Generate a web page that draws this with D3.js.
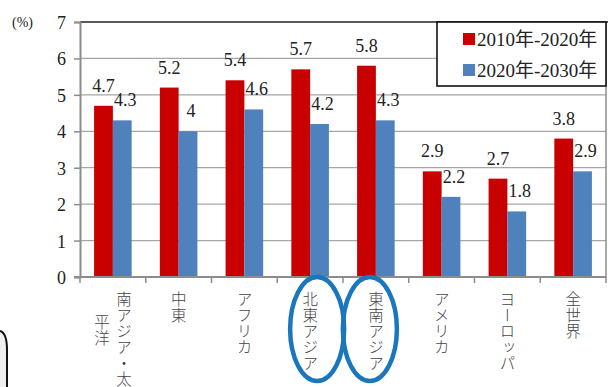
<!DOCTYPE html>
<html><head><meta charset="utf-8">
<script src="https://cdn.jsdelivr.net/npm/d3@7"></script>
<style>
html,body{margin:0;padding:0;background:#fff;}
svg{display:block;}
.sf{font-family:"Liberation Serif","Times New Roman","DejaVu Serif","Noto Sans CJK JP",serif;}
.cj{font-family:"Noto Sans CJK JP","Noto Sans CJK SC",sans-serif;}
</style></head>
<body>
<script>
const categories = ["南アジア・太\n平洋", "中東", "アフリカ", "北東アジア", "東南アジア", "アメリカ", "ヨーロッパ", "全世界"];
const seriesNames = ["2010年-2020年", "2020年-2030年"];
const series2010_2020 = [4.7, 5.2, 5.4, 5.7, 5.8, 2.9, 2.7, 3.8];
const series2020_2030 = [4.3, 4.0, 4.6, 4.2, 4.3, 2.2, 1.8, 2.9];
const yTicks = [0, 1, 2, 3, 4, 5, 6, 7];
const highlighted = ["北東アジア", "東南アジア"];
const colors = ["#c80000", "#4f81bd"];

(function () {
const W = 616, H = 387;
const svg = d3.select("body").append("svg").attr("width", W).attr("height", H);

const pL = 80, pR = 606, pT = 22, pB = 277;
const x0 = d3.scaleBand().domain(categories).range([pL, pR]).padding(0);
const x1 = d3.scaleBand().domain(seriesNames).range([0, x0.bandwidth()]).paddingInner(0).paddingOuter(0.75);
const y = d3.scaleLinear().domain([0, 7]).range([pB, pT]);

// gridlines
svg.append("g").selectAll("line").data(yTicks.filter(t => t > 0 && t < 7)).join("line")
  .attr("x1", pL).attr("x2", pR).attr("y1", d => y(d)).attr("y2", d => y(d))
  .attr("stroke", "#a6a6a6").attr("stroke-width", 1.2);
// top line
svg.append("line").attr("x1", pL).attr("x2", pR + 2).attr("y1", y(7)).attr("y2", y(7))
  .attr("stroke", "#222").attr("stroke-width", 1.6);
// right border
svg.append("line").attr("x1", pR).attr("x2", pR).attr("y1", y(7)).attr("y2", pB)
  .attr("stroke", "#8c8c8c").attr("stroke-width", 1.5);

// bars
const data = categories.map((c, i) => ({cat: c, vals: [series2010_2020[i], series2020_2030[i]]}));
const groups = svg.append("g").selectAll("g").data(data).join("g")
  .attr("transform", d => `translate(${x0(d.cat)},0)`);
groups.selectAll("rect").data(d => d.vals.map((v, j) => ({v, s: seriesNames[j], j}))).join("rect")
  .attr("x", d => x1(d.s)).attr("width", x1.bandwidth())
  .attr("y", d => y(d.v)).attr("height", d => y(0) - y(d.v))
  .attr("fill", d => colors[d.j]);
groups.selectAll("text").data(d => d.vals.map((v, j) => ({v, s: seriesNames[j], j}))).join("text")
  .attr("class", "sf")
  .attr("x", d => x1(d.s) + x1.bandwidth() / 2 + (d.j === 1 ? 3 : 0))
  .attr("y", d => y(d.v) - 14)
  .attr("text-anchor", "middle")
  .attr("font-size", 18).attr("fill", "#222")
  .text(d => d3.format("~g")(d.v));

// y axis
const yAxis = d3.axisLeft(y).tickValues(yTicks).tickSize(6).tickFormat(d3.format("d"));
const gy = svg.append("g").attr("transform", `translate(${pL},0)`).call(yAxis);
gy.attr("font-family", null);
gy.select(".domain").attr("stroke", "#8c8c8c").attr("stroke-width", 2);
gy.selectAll(".tick line").attr("stroke", "#8c8c8c").attr("stroke-width", 1.5);
gy.selectAll(".tick text").attr("class", "sf").attr("font-size", 18).attr("fill", "#222")
  .attr("x", -14).attr("dy", "0.36em");
svg.append("text").attr("class", "sf").attr("x", 12).attr("y", 27).attr("font-size", 14)
  .attr("fill", "#222").text("(%)");

// x axis
svg.append("line").attr("x1", pL - 6).attr("x2", pR).attr("y1", pB).attr("y2", pB)
  .attr("stroke", "#8c8c8c").attr("stroke-width", 2);
const bounds = categories.map(c => x0(c)).concat([pR]);
svg.append("g").selectAll("line").data(bounds).join("line")
  .attr("x1", d => d).attr("x2", d => d).attr("y1", pB).attr("y2", pB + 6)
  .attr("stroke", "#8c8c8c").attr("stroke-width", 1.5);

// category labels (vertical)
const labG = svg.append("g");
categories.forEach(c => {
  const lines = c.split("\n");
  const cx = x0(c) + x0.bandwidth() / 2;
  const n = lines.length;
  lines.forEach((ln, k) => {
    const colX = n === 1 ? cx : cx + 11 - k * 22;
    labG.append("text").attr("class", "cj")
      .attr("x", colX).attr("y", 291 + (k > 0 ? 23 : 0))
      .attr("font-size", 15.5).attr("fill", "#444").attr("font-weight", 300)
      .style("writing-mode", "vertical-rl")
      .attr("letter-spacing", 0.5)
      .text(ln);
  });
});

// highlight ellipses
svg.append("g").selectAll("ellipse").data(highlighted).join("ellipse")
  .attr("cx", (d, i) => x0(d) + x0.bandwidth() / 2 + (i === 0 ? 7 : -6))
  .attr("cy", 329).attr("rx", 27).attr("ry", 52)
  .attr("fill", "none").attr("stroke", "#1a76bd").attr("stroke-width", 4.5);

// legend
const lg = svg.append("g");
lg.append("rect").attr("x", 437).attr("y", 22).attr("width", 169).attr("height", 64)
  .attr("fill", "#fff").attr("stroke", "#111").attr("stroke-width", 1.6);
seriesNames.forEach((s, i) => {
  lg.append("rect").attr("x", 463).attr("y", 33 + i * 31).attr("width", 12).attr("height", 12)
    .attr("fill", colors[i]);
  lg.append("text").attr("class", "sf").attr("x", 477).attr("y", 46 + i * 31)
    .attr("font-size", 19).attr("fill", "#222").text(s);
});

// partial rounded frame bottom-left
svg.append("path").attr("d", "M0,331 Q7,333 7,350 L7,390 L0,390 Z").attr("fill", "#f0f0f0");
svg.append("path").attr("d", "M0,331 Q7,333 7,350 L7,390").attr("fill", "none")
  .attr("stroke", "#111").attr("stroke-width", 2);
})();
</script>
</body></html>
